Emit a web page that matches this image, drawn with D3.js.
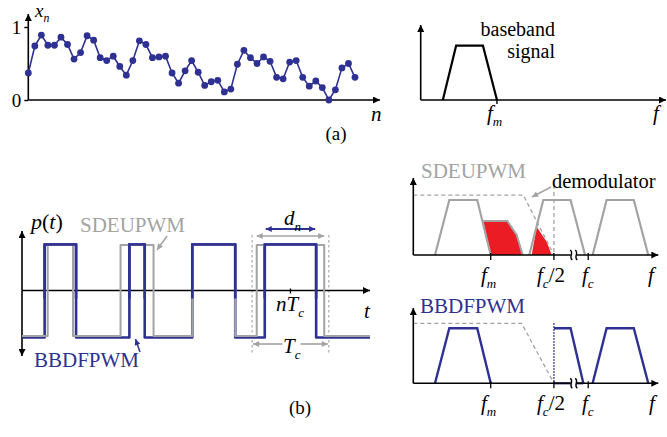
<!DOCTYPE html>
<html>
<head>
<meta charset="utf-8">
<script src="https://cdn.jsdelivr.net/npm/d3@7"></script>
<style>
body { margin:0; background:#fff; }
svg { display:block; }
svg text { font-family: "Liberation Serif", "Times New Roman", Tinos, "DejaVu Serif", serif; }
</style>
</head>
<body>
<div id="fig"></div>
<script>
// Figure size
const width = 667;
const height = 437;

const blue = "#2e3192";
const gray = "#a3a3a3";
const red = "#ec1c24";
const serif = "'Liberation Serif', 'Times New Roman', Tinos, 'DejaVu Serif', serif";

// (a) sampled input sequence x_n
const xn = [0.37,0.74,0.89,0.75,0.75,0.86,0.76,0.56,0.65,0.88,0.82,0.58,0.54,0.60,0.46,0.34,0.54,
            0.81,0.76,0.58,0.59,0.60,0.37,0.23,0.40,0.54,0.38,0.20,0.25,0.27,0.11,0.15,0.49,0.68,
            0.58,0.50,0.59,0.53,0.31,0.29,0.52,0.54,0.31,0.19,0.26,0.17,0.00,0.14,0.44,0.50,0.31];
const xnTicks = [0, 1];

// (b) pulse width per carrier period (fraction of Tc)
const dutySDEU = [0.33, 0.43, 0.56, 0.88];
const dutyBBDF = [0.41, 0.20, 0.56, 0.67];
const periodN = 3;   // period shown with the dn / Tc annotation

// spectra (frequency in arbitrary units, trapezoid corners)
const baseband = [0.90, 1.44, 2.53, 3.10];
const bandsSDEU = [[0.886, 1.47, 2.61, 3.16], [4.735, 5.306, 6.42, 7.01], [7.32, 7.89, 9.0, 9.59]];
const bandsBBDF = [[0.886, 1.47, 2.61, 3.16], [7.32, 7.89, 9.0, 9.59]];
const halfBand = [5.74, 6.42, 6.94];           // cut band right above fc/2
const aliasRed1 = [[2.857,0.618],[3.837,0.618],[4.22,0.364],[4.465,0],[3.16,0]];
const aliasRed2 = [[4.833,0],[5.037,0.515],[5.25,0.37],[5.445,0.24],[5.649,0]];
const filterSDEU = [[0,1.09],[4.49,1.09],[5.74,0]];
const filterBBDF = [[0,1.09],[4.42,1.09],[5.74,0]];
const fm = 3.16, fcHalf = 5.74, fc = 7.14, fBreak = 6.55;

const svg = d3.select("#fig")
  .append("svg")
  .attr("width", width)
  .attr("height", height)
  .attr("viewBox", [0, 0, width, height])
  .attr("font-family", serif);

// arrow heads
const defs = svg.append("defs");
function marker(id, color, w, h) {
  defs.append("marker")
    .attr("id", id)
    .attr("viewBox", "0 0 10 10")
    .attr("refX", 10).attr("refY", 5)
    .attr("markerUnits", "userSpaceOnUse")
    .attr("markerWidth", w).attr("markerHeight", h)
    .attr("orient", "auto-start-reverse")
    .append("path")
    .attr("d", "M0,0 L10,5 L0,10 z")
    .attr("fill", color);
}
marker("ak", "#000", 9, 7);
marker("ag", gray, 8, 6);
marker("ab", blue, 8, 6);

function arrowLine(x1, y1, x2, y2, color, id, w, both) {
  const l = svg.append("line")
    .attr("x1", x1).attr("y1", y1).attr("x2", x2).attr("y2", y2)
    .attr("stroke", color).attr("stroke-width", w)
    .attr("marker-end", `url(#${id})`);
  if (both) l.attr("marker-start", `url(#${id})`);
  return l;
}

// text with italic parts and subscripts
function label(x, y, parts, size, color, anchor) {
  const t = svg.append("text")
    .attr("x", x).attr("y", y)
    .attr("font-family", serif)
    .attr("font-size", size)
    .attr("fill", color || "#000")
    .attr("text-anchor", anchor || "start");
  let shift = 0;
  parts.forEach(p => {
    const s = t.append("tspan").text(p.s);
    if (p.i) s.attr("font-style", "italic");
    const want = p.sub ? size * 0.28 : 0;
    if (want !== shift) { s.attr("dy", want - shift); shift = want; }
    if (p.sub) s.attr("font-size", size * 0.62);
  });
  return t;
}

/*
  (a) sequence
*/
const xA = d3.scaleLinear().domain([0, xn.length - 1]).range([28.3, 355]);
const yA = d3.scaleLinear().domain([0, 1]).range([100, 27]);

arrowLine(xA(0), yA(0), 380, yA(0), "#000", "ak", 1.6);
arrowLine(xA(0), yA(0), xA(0), 14, "#000", "ak", 1.6);

svg.append("g")
  .attr("transform", `translate(${xA(0)},0)`)
  .call(d3.axisLeft(yA).tickValues(xnTicks).tickSize(4).tickPadding(3).tickFormat(d3.format("d")))
  .attr("font-family", serif)
  .attr("font-size", 19)
  .call(g => g.select(".domain").remove())
  .call(g => g.selectAll("line").attr("stroke-width", 1.4))
  .call(g => g.selectAll("text").attr("dy", "0.36em"));

svg.append("path")
  .datum(xn)
  .attr("d", d3.line().x((d, i) => xA(i)).y(d => yA(d)))
  .attr("fill", "none")
  .attr("stroke", blue)
  .attr("stroke-width", 1.6);

svg.selectAll(".dot")
  .data(xn)
  .enter()
  .append("circle")
    .attr("class", "dot")
    .attr("cx", (d, i) => xA(i))
    .attr("cy", d => yA(d))
    .attr("r", 3.4)
    .attr("fill", blue);

label(35, 17, [{s:"x", i:true}, {s:"n", i:true, sub:true}], 19);
label(371, 121, [{s:"n", i:true}], 21);
label(336, 140, [{s:"(a)"}], 19, "#000", "middle");

/*
  baseband spectrum
*/
const fA = d3.scaleLinear().domain([0, 10]).range([420.7, 666.7]);
const ampA = d3.scaleLinear().domain([0, 1]).range([100, 45.7]);

arrowLine(fA(0), ampA(0), 666, ampA(0), "#000", "ak", 1.6);
arrowLine(fA(0), ampA(0), fA(0), 25, "#000", "ak", 1.6);

const trap = (band, fx, ay, h) => [[band[0], 0], [band[1], h], [band[2], h], [band[3], 0]]
  .map(p => [fx(p[0]), ay(p[1])]);

svg.append("path")
  .attr("d", d3.line()(trap(baseband, fA, ampA, 1)))
  .attr("fill", "none").attr("stroke", "#000").attr("stroke-width", 2.2)
  .attr("stroke-linejoin", "miter");
svg.append("line")
  .attr("x1", fA(baseband[3])).attr("x2", fA(baseband[3]))
  .attr("y1", ampA(0)).attr("y2", ampA(0) + 4)
  .attr("stroke", "#000").attr("stroke-width", 1.4);

label(555, 36, [{s:"baseband"}], 20, "#000", "end");
label(555, 58, [{s:"signal"}], 20, "#000", "end");
label(487, 120, [{s:"f", i:true}, {s:"m", i:true, sub:true}], 21);
label(653, 120, [{s:"f", i:true}], 21);

/*
  (b) PWM waveforms
*/
const tScale = d3.scaleLinear().domain([0, 4.537]).range([22, 370]);
const lvl = d3.scaleLinear().domain([-1, 1]).range([336, 245]);

function pulseTrain(duty) {
  const pts = [[0, -1]];
  duty.forEach((d, k) => {
    const a = k + 0.5 - d / 2, b = k + 0.5 + d / 2;
    pts.push([a, -1], [a, 1], [b, 1], [b, -1]);
  });
  pts.push([tScale.domain()[1], -1]);
  return pts;
}

// dashed borders of period n
[periodN, periodN + 1].forEach(k => {
  svg.append("line")
    .attr("x1", tScale(k)).attr("x2", tScale(k))
    .attr("y1", 235).attr("y2", 355)
    .attr("stroke", gray).attr("stroke-width", 1.1)
    .attr("stroke-dasharray", "2.5,2.5");
});

arrowLine(tScale(0), lvl(0), 370, lvl(0), "#000", "ak", 1.6);
arrowLine(tScale(0), lvl(0), tScale(0), 231, "#000", "ak", 1.6);
arrowLine(tScale(0), lvl(0), tScale(0), 356, "#000", "ak", 1.6);

// blue sits a bit lower at the low level, gray above it
svg.append("path")
  .attr("d", d3.line().x(d => tScale(d[0])).y(d => d[1] < 0 ? lvl(d[1]) + 1.5 : lvl(d[1]) - 0.5)(pulseTrain(dutyBBDF)))
  .attr("fill", "none").attr("stroke", blue).attr("stroke-width", 2.6)
  .attr("stroke-linejoin", "round");
svg.append("path")
  .attr("d", d3.line().x(d => tScale(d[0])).y(d => lvl(d[1]))(pulseTrain(dutySDEU)))
  .attr("fill", "none").attr("stroke", gray).attr("stroke-width", 2)
  .attr("stroke-linejoin", "round");
// blue high parts on top again
dutyBBDF.forEach((d, k) => {
  const a = k + 0.5 - d / 2, b = k + 0.5 + d / 2;
  svg.append("path")
    .attr("d", d3.line()([[tScale(a), lvl(0) + 8], [tScale(a), lvl(1) - 0.5], [tScale(b), lvl(1) - 0.5], [tScale(b), lvl(0) + 8]]))
    .attr("fill", "none").attr("stroke", blue).attr("stroke-width", 2.6);
});

// nTc tick
svg.append("line")
  .attr("x1", tScale(periodN + 0.5)).attr("x2", tScale(periodN + 0.5))
  .attr("y1", lvl(0) - 2).attr("y2", lvl(0) + 3)
  .attr("stroke", "#000").attr("stroke-width", 1.3);

// dn arrows
const dB = dutyBBDF[periodN], dS = dutySDEU[periodN];
arrowLine(tScale(periodN + 0.5 - dB / 2) + 1, 229, tScale(periodN + 0.5 + dB / 2) - 1, 229, blue, "ab", 1.8, true);
arrowLine(tScale(periodN + 0.5 - dS / 2), 236, tScale(periodN + 0.5 + dS / 2), 236, gray, "ag", 1.6, true);
// Tc arrows
arrowLine(tScale(periodN + 0.5) - 8, 344, tScale(periodN) + 1, 344, gray, "ag", 1.6);
arrowLine(tScale(periodN + 0.5) + 10, 344, tScale(periodN + 1) - 1, 344, gray, "ag", 1.6);

// pointers from the legend labels
arrowLine(167, 236, 157, 250, gray, "ag", 1.5);
arrowLine(140, 352, 135.5, 339, blue, "ab", 1.5);

label(31, 229, [{s:"p", i:true}, {s:"("}, {s:"t", i:true}, {s:")"}], 22);
label(80, 232, [{s:"SDEUPWM"}], 21, gray);
label(34, 367, [{s:"BBDFPWM"}], 21, blue);
label(284, 225, [{s:"d", i:true}, {s:"n", i:true, sub:true}], 21);
label(276, 311, [{s:"n", i:true}, {s:"T", i:true}, {s:"c", i:true, sub:true}], 21);
label(283, 353, [{s:"T", i:true}, {s:"c", i:true, sub:true}], 21);
label(364, 318, [{s:"t", i:true}], 21);
label(300, 414, [{s:"(b)"}], 19, "#000", "middle");

/*
  SDEUPWM and BBDFPWM spectra
*/
const fB = d3.scaleLinear().domain([0, 10]).range([413.3, 658.3]);
const ampS = d3.scaleLinear().domain([0, 1]).range([255, 200]);
const ampB = d3.scaleLinear().domain([0, 1]).range([383.3, 328.3]);
const pt = (ay) => d3.line().x(d => fB(d[0])).y(d => ay(d[1]));

function freqAxis(ay, top) {
  arrowLine(fB(0), ay(0), 658.3, ay(0), "#000", "ak", 1.6);
  arrowLine(fB(0), ay(0), fB(0), top, "#000", "ak", 1.6);
  [fm, fcHalf, fc].forEach(f => {
    svg.append("line")
      .attr("x1", fB(f)).attr("x2", fB(f))
      .attr("y1", ay(0) - 2).attr("y2", ay(0) + 5)
      .attr("stroke", "#000").attr("stroke-width", 1.3);
  });
  // axis break
  svg.append("rect")
    .attr("x", fB(fBreak) - 3).attr("y", ay(0) - 2)
    .attr("width", 6).attr("height", 4).attr("fill", "#fff");
  [-2.5, 2.5].forEach(o => {
    const x = fB(fBreak) + o, y = ay(0);
    svg.append("path")
      .attr("d", `M${x - 1},${y - 5} C${x + 3},${y - 2} ${x - 3},${y + 2} ${x + 1},${y + 5}`)
      .attr("fill", "none").attr("stroke", "#000").attr("stroke-width", 1.4);
  });
}

// SDEUPWM spectrum
svg.append("path").attr("d", pt(ampS)(aliasRed1)).attr("fill", red);
svg.append("path").attr("d", pt(ampS)(aliasRed2)).attr("fill", red);
svg.append("path").attr("d", pt(ampS)(aliasRed1.slice(0, 4)))
  .attr("fill", "none").attr("stroke", gray).attr("stroke-width", 2);
bandsSDEU.forEach(b => {
  svg.append("path")
    .attr("d", d3.line()(trap(b, fB, ampS, 1)))
    .attr("fill", "none").attr("stroke", gray).attr("stroke-width", 2.2);
});
svg.append("path").attr("d", pt(ampS)(filterSDEU))
  .attr("fill", "none").attr("stroke", gray).attr("stroke-width", 1.3)
  .attr("stroke-dasharray", "4,3");
svg.append("line")
  .attr("x1", fB(fcHalf)).attr("x2", fB(fcHalf))
  .attr("y1", 185).attr("y2", ampS(0))
  .attr("stroke", gray).attr("stroke-width", 1.3)
  .attr("stroke-dasharray", "4,3");
freqAxis(ampS, 178);
arrowLine(551, 187, 532, 197, gray, "ag", 1.5);

label(421, 178, [{s:"SDEUPWM"}], 21, gray);
label(552, 188, [{s:"demodulator"}], 20.5);
label(481, 282, [{s:"f", i:true}, {s:"m", i:true, sub:true}], 21);
label(537, 282, [{s:"f", i:true}, {s:"c", i:true, sub:true}, {s:"/2"}], 21);
label(582, 282, [{s:"f", i:true}, {s:"c", i:true, sub:true}], 21);
label(648, 282, [{s:"f", i:true}], 21);

// BBDFPWM spectrum
bandsBBDF.forEach(b => {
  svg.append("path")
    .attr("d", d3.line()(trap(b, fB, ampB, 1)))
    .attr("fill", "none").attr("stroke", blue).attr("stroke-width", 2.4);
});
svg.append("path").attr("d", pt(ampB)(filterBBDF))
  .attr("fill", "none").attr("stroke", gray).attr("stroke-width", 1.3)
  .attr("stroke-dasharray", "4,3");
svg.append("path")
  .attr("d", pt(ampB)([[halfBand[0], 1], [halfBand[1], 1], [halfBand[2], 0]]))
  .attr("fill", "none").attr("stroke", blue).attr("stroke-width", 2.4);
svg.append("line")
  .attr("x1", fB(halfBand[0])).attr("x2", fB(halfBand[2]))
  .attr("y1", ampB(0)).attr("y2", ampB(0))
  .attr("stroke", blue).attr("stroke-width", 2.2);
svg.append("line")
  .attr("x1", fB(fcHalf)).attr("x2", fB(fcHalf))
  .attr("y1", ampB(1.09)).attr("y2", ampB(0))
  .attr("stroke", blue).attr("stroke-width", 1.6)
  .attr("stroke-dasharray", "1.5,1.5");
freqAxis(ampB, 308);

label(420, 313, [{s:"BBDFPWM"}], 21, blue);
label(481, 410, [{s:"f", i:true}, {s:"m", i:true, sub:true}], 21);
label(537, 410, [{s:"f", i:true}, {s:"c", i:true, sub:true}, {s:"/2"}], 21);
label(582, 410, [{s:"f", i:true}, {s:"c", i:true, sub:true}], 21);
label(649, 410, [{s:"f", i:true}], 21);
</script>
</body>
</html>
